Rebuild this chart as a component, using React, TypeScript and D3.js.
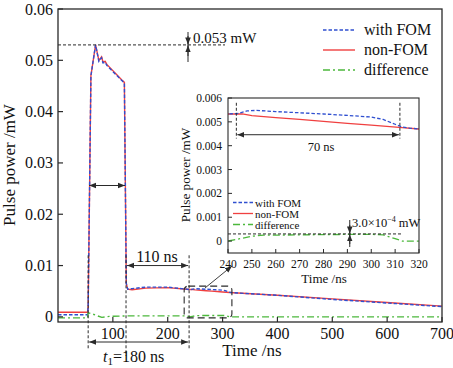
import React from "react";
import * as d3 from "d3";

// ---- data (time ns, power mW) ----
const nonFOM: [number, number][] = [
  [0, 0.0009], [30, 0.0009], [54, 0.0009], [55, 0.002], [60, 0.047], [68.5, 0.053],
  [74.5, 0.05], [79.5, 0.0507], [82, 0.0497], [86, 0.0498], [89, 0.0492], [116, 0.0462],
  [121, 0.0457], [124.5, 0.0065], [127, 0.0054], [135, 0.0053], [160, 0.0056], [200, 0.0057],
  [240, 0.00533], [246, 0.00533], [250, 0.00526], [260, 0.00518], [270, 0.0051], [280, 0.00502],
  [290, 0.00494], [300, 0.00486], [313, 0.00476], [320, 0.0047], [400, 0.0042], [500, 0.0035],
  [600, 0.0028], [700, 0.0021],
];
const withFOM: [number, number][] = [
  [0, 0.0004], [30, 0.0004], [54, 0.0004], [55, 0.002], [60, 0.047], [68.5, 0.053],
  [74.5, 0.0498], [79.5, 0.0505], [82, 0.0495], [86, 0.0496], [89, 0.049], [116, 0.0461],
  [121, 0.0456], [124.5, 0.0065], [127, 0.0054], [135, 0.0055], [160, 0.0058], [200, 0.0058],
  [240, 0.00533], [244, 0.00535], [248, 0.00546], [252, 0.00548], [260, 0.00543], [270, 0.00538],
  [280, 0.00533], [290, 0.00527], [300, 0.0052], [305, 0.0051], [310, 0.0049], [313, 0.00478],
  [316, 0.00474], [320, 0.0047], [400, 0.0042], [500, 0.0034], [600, 0.0027], [700, 0.002],
];
const difference: [number, number][] = [
  [0, -0.0002], [54, -0.0002], [55, 0.0008], [62, 0.0006], [72, 0.0002], [80, -0.0001],
  [95, 0.0001], [130, 0.0002], [235, 0.0002], [240, 0.0], [245, 0.0001], [250, 0.0002],
  [255, 0.00025], [260, 0.00025], [270, 0.00026], [280, 0.00027], [290, 0.00028], [300, 0.00028],
  [305, 0.00026], [310, 0.0001], [313, 0.0], [320, 0.0], [700, 0.0],
];

const mainXTicks = [100, 200, 300, 400, 500, 600, 700];
const mainYTicks = [0, 0.01, 0.02, 0.03, 0.04, 0.05, 0.06];
const insetXTicks = [240, 250, 260, 270, 280, 290, 300, 310, 320];
const insetYTicks = [0, 0.001, 0.002, 0.003, 0.004, 0.005, 0.006];
const legendLabels = ["with FOM", "non-FOM", "difference"];

const BLUE = "#2f4fd0";
const RED = "#f04040";
const GREEN = "#4cb83c";
const INK = "#2a2a2a";
const FONT = "'Liberation Serif', 'DejaVu Serif', serif";

export default function App() {
  const x = d3.scaleLinear().domain([0, 700]).range([58, 442]);
  const y = d3.scaleLinear().domain([-0.001, 0.06]).range([322, 9]);
  const xi = d3.scaleLinear().domain([240, 320]).range([228, 419]);
  const yi = d3.scaleLinear().domain([-0.0005, 0.006]).range([253, 98]);

  const lineMain = d3.line<[number, number]>().x((d) => x(d[0])).y((d) => y(d[1]));
  const lineInset = d3.line<[number, number]>().x((d) => xi(d[0])).y((d) => yi(d[1]));

  const series = [
    { data: nonFOM, color: RED, dash: undefined as string | undefined, w: 1.4 },
    { data: withFOM, color: BLUE, dash: "3.5,2", w: 1.4 },
    { data: difference, color: GREEN, dash: "7,3,2,3", w: 1.4 },
  ];
  const legendStyles = [series[1], series[0], series[2]];

  const fmtMain = (v: number) => (v === 0 ? "0" : d3.format(".2f")(v));
  const fmtInset = (v: number) => (v === 0 ? "0" : d3.format(".3f")(v));

  const arrow = "url(#arr)";

  return (
    <svg width={453} height={368} style={{ position: "absolute", left: 0, top: 0, background: "#fff" }} fontFamily={FONT}>
      <defs>
        <marker id="arr" viewBox="0 0 10 10" refX="10" refY="5" markerWidth="7" markerHeight="7" orient="auto-start-reverse" markerUnits="userSpaceOnUse">
          <path d="M0,1 L10,5 L0,9 z" fill={INK} />
        </marker>
        <clipPath id="clipMain"><rect x={58} y={9} width={384} height={313} /></clipPath>
        <clipPath id="clipInset"><rect x={228} y={98} width={191} height={155} /></clipPath>
      </defs>
      <rect width={453} height={368} fill="#fff" />

      {/* main series */}
      <g clipPath="url(#clipMain)">
        {series.map((s, i) => (
          <path key={i} d={lineMain(s.data) || ""} fill="none" stroke={s.color} strokeWidth={s.w} strokeDasharray={s.dash} />
        ))}
      </g>

      {/* main frame */}
      <rect x={58} y={9} width={384} height={313} fill="none" stroke={INK} strokeWidth={1.3} />
      {mainYTicks.map((t) => (
        <g key={t}>
          <line x1={58} x2={63} y1={y(t)} y2={y(t)} stroke={INK} strokeWidth={1.2} />
          <text x={53} y={y(t) + 5.5} textAnchor="end" fontSize={16} fill="#111">{fmtMain(t)}</text>
        </g>
      ))}
      {mainXTicks.map((t) => (
        <g key={t}>
          <line x1={x(t)} x2={x(t)} y1={322} y2={317} stroke={INK} strokeWidth={1.2} />
          <text x={x(t)} y={339} textAnchor="middle" fontSize={16} fill="#111">{t}</text>
        </g>
      ))}
      <text x={252} y={356} textAnchor="middle" fontSize={17} fill="#111">Time /ns</text>
      <text transform={`translate(15,165) rotate(-90)`} textAnchor="middle" fontSize={17} fill="#111">Pulse power /mW</text>

      {/* peak annotation */}
      <line x1={58} x2={225} y1={y(0.053)} y2={y(0.053)} stroke={INK} strokeWidth={1} strokeDasharray="3,2" />
      <line x1={188} x2={188} y1={32} y2={62} stroke={INK} strokeWidth={1} />
      <line x1={188} x2={188} y1={36} y2={y(0.053) - 0.5} stroke={INK} strokeWidth={1} markerEnd={arrow} />
      <line x1={188} x2={188} y1={56} y2={y(0.053) + 0.5} stroke={INK} strokeWidth={1} markerEnd={arrow} />
      <text x={193} y={43} fontSize={15} fill="#111">0.053 mW</text>

      {/* vertical dashed markers */}
      {[55, 124, 239].map((t) => (
        <line key={t} x1={x(t)} x2={x(t)} y1={y(0.012)} y2={t === 124 ? 356 : 350} stroke={INK} strokeWidth={1} strokeDasharray="3,2" />
      ))}
      <line x1={x(55) + 1} x2={x(124) - 1} y1={y(0.0256)} y2={y(0.0256)} stroke={INK} strokeWidth={1} markerStart={arrow} markerEnd={arrow} />
      <line x1={x(124) + 1} x2={x(239) - 1} y1={y(0.01)} y2={y(0.01)} stroke={INK} strokeWidth={1} markerStart={arrow} markerEnd={arrow} />
      <text x={157} y={262} textAnchor="middle" fontSize={16} fill="#111">110 ns</text>
      <line x1={x(55) + 1} x2={x(239) - 1} y1={342} y2={342} stroke={INK} strokeWidth={1} markerStart={arrow} markerEnd={arrow} />
      <text x={103} y={362} fontSize={16} fill="#111">
        <tspan fontStyle="italic">t</tspan>
        <tspan fontSize={11} dy={3}>1</tspan>
        <tspan dy={-3}>=180 ns</tspan>
      </text>

      {/* zoom box + connector */}
      <rect x={x(230)} y={y(0.006)} width={x(317) - x(230)} height={y(-0.0002) - y(0.006)} rx={4} fill="none" stroke={INK} strokeWidth={1.1} strokeDasharray="7,4" />
      <line x1={205} y1={288} x2={232} y2={266} stroke={INK} strokeWidth={0.9} markerEnd={arrow} />

      {/* legend */}
      {legendLabels.map((lab, i) => (
        <g key={lab}>
          <line x1={323} x2={355} y1={30 + i * 20} y2={30 + i * 20} stroke={legendStyles[i].color} strokeWidth={1.4} strokeDasharray={legendStyles[i].dash} />
          <text x={364} y={35 + i * 20} fontSize={16} fill="#111">{lab}</text>
        </g>
      ))}

      {/* inset */}
      <rect x={228} y={98} width={191} height={155} fill="#fff" />
      <g clipPath="url(#clipInset)">
        {series.map((s, i) => (
          <path key={i} d={lineInset(s.data) || ""} fill="none" stroke={s.color} strokeWidth={1.3} strokeDasharray={s.dash} />
        ))}
      </g>
      <rect x={228} y={98} width={191} height={155} fill="none" stroke={INK} strokeWidth={1.1} />
      {insetYTicks.map((t) => (
        <g key={t}>
          <line x1={228} x2={232} y1={yi(t)} y2={yi(t)} stroke={INK} strokeWidth={1} />
          <text x={222} y={yi(t) + 4} textAnchor="end" fontSize={11.5} fill="#111">{fmtInset(t)}</text>
        </g>
      ))}
      {insetXTicks.map((t) => (
        <g key={t}>
          <line x1={xi(t)} x2={xi(t)} y1={253} y2={249} stroke={INK} strokeWidth={1} />
          <text x={xi(t)} y={268} textAnchor="middle" fontSize={11.5} fill="#111">{t}</text>
        </g>
      ))}
      <text x={324} y={283} textAnchor="middle" fontSize={13} fill="#111">Time /ns</text>
      <text transform={`translate(190,175) rotate(-90)`} textAnchor="middle" fontSize={13.2} fill="#111">Pulse power /mW</text>

      {[243.5, 312].map((t) => (
        <line key={t} x1={xi(t)} x2={xi(t)} y1={yi(0.0058)} y2={yi(0.0043)} stroke={INK} strokeWidth={1} strokeDasharray="3,2" />
      ))}
      <line x1={xi(243.5) + 1} x2={xi(312) - 1} y1={yi(0.00446)} y2={yi(0.00446)} stroke={INK} strokeWidth={1} markerStart={arrow} markerEnd={arrow} />
      <text x={321} y={151} textAnchor="middle" fontSize={12.5} fill="#111">70 ns</text>

      <line x1={228} x2={xi(313)} y1={yi(0.0003)} y2={yi(0.0003)} stroke={INK} strokeWidth={1} strokeDasharray="3,2" />
      <line x1={xi(291)} x2={xi(291)} y1={220} y2={247} stroke={INK} strokeWidth={1} />
      <line x1={xi(291)} x2={xi(291)} y1={225} y2={yi(0.0003) - 0.5} stroke={INK} strokeWidth={1} markerEnd={arrow} />
      <line x1={xi(291)} x2={xi(291)} y1={244} y2={yi(0.0003) + 0.5} stroke={INK} strokeWidth={1} markerEnd={arrow} />
      <text x={352} y={227} fontSize={12.5} fill="#111">
        3.0×10<tspan fontSize={8} dy={-5}>−4</tspan><tspan dy={5}> mW</tspan>
      </text>

      {legendLabels.map((lab, i) => (
        <g key={lab}>
          <line x1={233} x2={253} y1={202.5 + i * 11} y2={202.5 + i * 11} stroke={legendStyles[i].color} strokeWidth={1.3} strokeDasharray={legendStyles[i].dash} />
          <text x={255} y={206.5 + i * 11} fontSize={11} fill="#111">{lab}</text>
        </g>
      ))}
    </svg>
  );
}
